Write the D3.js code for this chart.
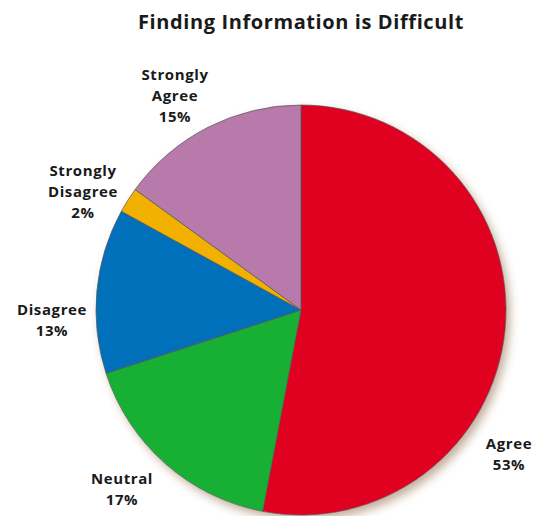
<!DOCTYPE html>
<html>
<head>
<meta charset="utf-8">
<script src="https://cdn.jsdelivr.net/npm/d3@7"></script>
<style>
  body { margin: 0; background: #fff; }
  text { font-family: "Open Sans", "Noto Sans", sans-serif; font-weight: bold; fill: #1a1a1a; }
</style>
</head>
<body>
<svg id="chart"></svg>
<script>
const categories = ["Agree", "Neutral", "Disagree", "Strongly Disagree", "Strongly Agree"]
const values = [53, 17, 13, 2, 15]
const colors = ["#e00020", "#17b034", "#0070bb", "#f2b000", "#b87aab"]
const labelLines = [["Agree", "53%"], ["Neutral", "17%"], ["Disagree", "13%"], ["Strongly", "Disagree", "2%"], ["Strongly", "Agree", "15%"]]

const width = 537
const height = 516
const cx = 301, cy = 310, radius = 205

// label anchor (top line) per slice, hand placed like the original
const labelAt = [[509, 449], [122, 484], [52, 315], [83, 176], [175, 80]]

const svg = d3.select('#chart')
    .attr('width', width)
    .attr('height', height)

const defs = svg.append('defs')
const shadow = defs.append('filter').attr('id', 'shadow')
    .attr('x', '-10%').attr('y', '-10%').attr('width', '130%').attr('height', '130%')
shadow.append('feDropShadow')
    .attr('dx', 4).attr('dy', 5).attr('stdDeviation', 5)
    .attr('flood-color', '#7a4a20').attr('flood-opacity', 0.45)

svg.append('text')
    .attr('x', 301)
    .attr('y', 29)
    .attr('text-anchor', 'middle')
    .style('font-size', '20px')
    .style('letter-spacing', '0.6px')
    .text('Finding Information is Difficult')

const pie = d3.pie().sort(null).value(d => d)
const arc = d3.arc().innerRadius(0).outerRadius(radius)

const g = svg.append('g').attr('transform', `translate(${cx},${cy})`)

g.append('circle')
    .attr('r', radius)
    .attr('fill', '#fff')
    .attr('filter', 'url(#shadow)')

g.selectAll('path')
    .data(pie(values))
    .enter()
    .append('path')
    .attr('d', arc)
    .attr('fill', (d, i) => colors[i])
    .attr('stroke', '#555')
    .attr('stroke-width', 0.7)
    .attr('stroke-linejoin', 'round')

const labels = svg.selectAll('.label')
    .data(categories)
    .enter()
    .append('text')
    .attr('class', 'label')
    .attr('text-anchor', 'middle')
    .style('font-size', '15px')
    .style('letter-spacing', '0.6px')
    .attr('x', (d, i) => labelAt[i][0])
    .attr('y', (d, i) => labelAt[i][1])

labels.selectAll('tspan')
    .data((d, i) => labelLines[i].map(t => ({ t, x: labelAt[i][0] })))
    .enter()
    .append('tspan')
    .attr('x', d => d.x)
    .attr('dy', (d, j) => j === 0 ? 0 : 21)
    .text(d => d.t)
</script>
</body>
</html>
